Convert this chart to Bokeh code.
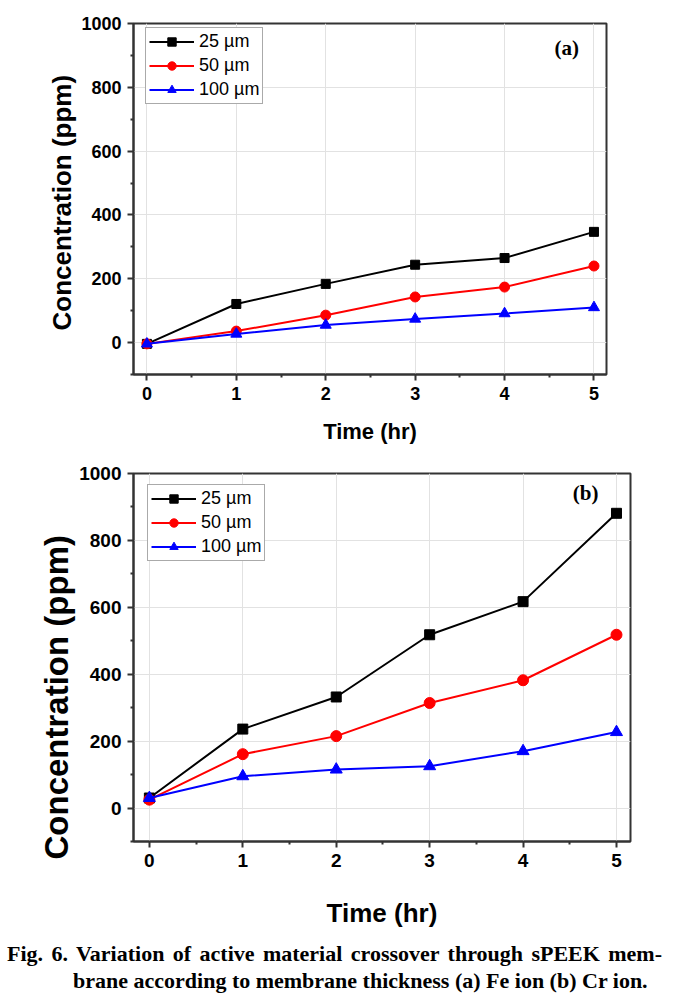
from bokeh.plotting import figure
from bokeh.models import FixedTicker, Legend, LegendItem, Label, Div, Range1d, Title
from bokeh.layouts import column
from bokeh.embed import file_html
from bokeh.resources import INLINE

# ---------------- data ----------------
time_hr = [0, 1, 2, 3, 4, 5]
series_labels = ["25 \u00b5m", "50 \u00b5m", "100 \u00b5m"]
series_colors = ["#000000", "#ff0000", "#0000ff"]
series_markers = ["square", "circle", "triangle"]

fe_25 = [-4, 121, 184, 244, 265, 347]
fe_50 = [-4, 36, 86, 143, 174, 240]
fe_100 = [-4, 27, 55, 74, 91, 110]

cr_25 = [30, 236, 332, 518, 617, 881]
cr_50 = [25, 161, 215, 314, 382, 518]
cr_100 = [30, 95, 115, 125, 170, 227]

y_ticks = [0, 200, 400, 600, 800, 1000]
y_minor = [-100, 100, 300, 500, 700, 900]
x_ticks = [0, 1, 2, 3, 4, 5]
x_minor = [0.5, 1.5, 2.5, 3.5, 4.5]

panel_tags = ["(a)", "(b)"]
x_title = "Time (hr)"
y_title = "Concentration (ppm)"
caption_1 = "Fig. 6. Variation of active material crossover through sPEEK mem-"
caption_2 = "brane according to membrane thickness (a) Fe ion (b) Cr ion."

SANS = "Liberation Sans"
SERIF = "Liberation Serif"


def make_panel(series, tag, fw, fh, bl, bt, br, bb, xr, tick_fs, ylab_fs, xlab_fs,
               xlab_standoff, ylab_offset, leg_loc, tag_xy, marker_sizes):
    p = figure(frame_width=fw, frame_height=fh, min_border_left=bl, min_border_top=bt,
               min_border_right=br, min_border_bottom=bb,
               x_range=Range1d(*xr), y_range=Range1d(-100, 1000),
               output_backend="svg", toolbar_location=None)
    p.background_fill_color = "white"
    p.border_fill_color = "white"
    p.outline_line_color = "#333333"
    p.outline_line_width = 2

    p.xaxis.ticker = FixedTicker(ticks=x_ticks, minor_ticks=x_minor)
    p.yaxis.ticker = FixedTicker(ticks=y_ticks, minor_ticks=y_minor)
    for ax in (p.xaxis, p.yaxis):
        ax.axis_line_color = "#333333"
        ax.axis_line_width = 2
        ax.major_tick_line_color = "#333333"
        ax.major_tick_line_width = 2
        ax.minor_tick_line_color = "#333333"
        ax.minor_tick_line_width = 2
        ax.major_tick_out = 6
        ax.major_tick_in = 0
        ax.minor_tick_out = 3
        ax.minor_tick_in = 0
        ax.major_label_text_font = SANS
        ax.major_label_text_font_style = "bold"
        ax.major_label_text_font_size = tick_fs
        ax.major_label_text_color = "#000000"
        ax.axis_label_text_font = SANS
        ax.axis_label_text_font_style = "bold"
        ax.axis_label_text_color = "#000000"
        ax.major_label_standoff = 6
    p.xaxis.axis_label = x_title
    p.xaxis.axis_label_text_font_size = xlab_fs
    p.xaxis.axis_label_standoff = xlab_standoff

    # y-axis title as a side title, started a fixed distance above the frame bottom
    p.add_layout(Title(text=y_title, align="left", offset=ylab_offset,
                       text_font=SANS, text_font_style="bold", text_font_size=ylab_fs,
                       text_color="#000000", standoff=4), "left")

    p.grid.grid_line_color = "#e2e2e2"
    p.grid.grid_line_width = 1

    items = []
    for ys, lab, col, mk, ms in zip(series, series_labels, series_colors, series_markers, marker_sizes):
        lr = p.line(time_hr, ys, line_color=col, line_width=2)
        sr = p.scatter(time_hr, ys, marker=mk, size=ms, fill_color=col, line_color=col)
        items.append(LegendItem(label=lab, renderers=[lr, sr]))

    legend = Legend(items=items, location=leg_loc, orientation="vertical",
                    label_text_font=SANS, label_text_font_size="18px",
                    label_text_color="#000000",
                    glyph_width=45, glyph_height=21, label_height=21,
                    label_standoff=5, padding=3, spacing=3, margin=0,
                    border_line_color="#555555", border_line_width=1,
                    background_fill_color="white", background_fill_alpha=1)
    p.add_layout(legend, "center")

    p.add_layout(Label(x=tag_xy[0], y=tag_xy[1], text=tag, text_font=SERIF,
                       text_font_style="bold", text_font_size="21px",
                       text_align="center", text_baseline="middle",
                       text_color="#000000"))
    return p


pa = make_panel([fe_25, fe_50, fe_100], panel_tags[0], 473, 351, 133, 23, 71, 76,
                (-0.15, 5.14), "18px", "26px", "22px", 16, 44, (12, 270),
                (4.695, 922), [9, 10, 11])
pb = make_panel([cr_25, cr_50, cr_100], panel_tags[1], 497, 368, 132, 23, 48, 95,
                (-0.17, 5.15), "19px", "33px", "26px", 28, -18, (14, 280),
                (4.67, 941), [10, 11, 12])

caption = Div(
    text=('<div style="text-align:justify;text-align-last:justify;width:655px">'
          + caption_1 + '</div><div style="padding-left:66px">' + caption_2 + '</div>'),
    width=677, height=54,
    styles={"font-family": SERIF, "font-size": "22px", "font-weight": "bold",
            "line-height": "26.7px", "color": "#000000", "padding-left": "2px"})

layout = column(pa, pb, caption, spacing=0)
open("out.html", "w").write(file_html(layout, INLINE))
